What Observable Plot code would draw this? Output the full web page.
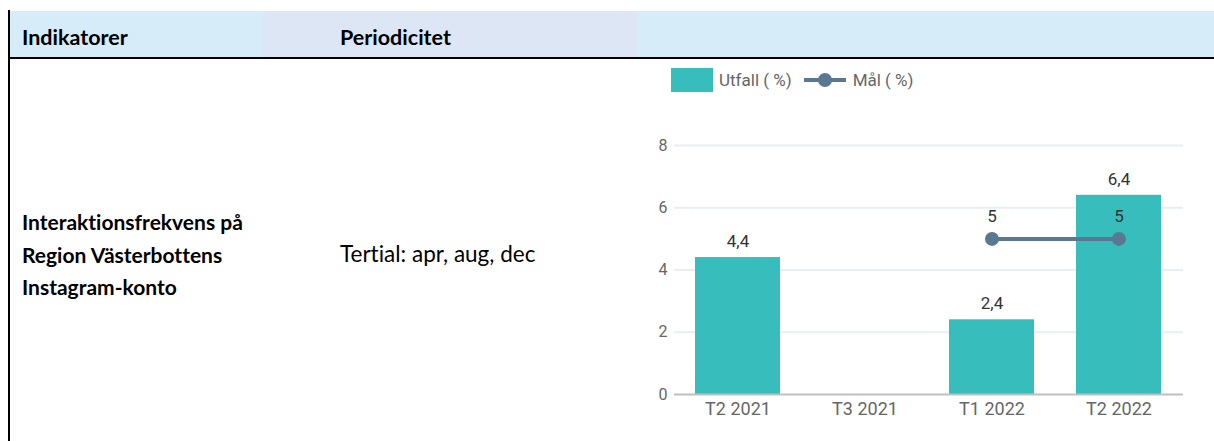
<!DOCTYPE html>
<html>
<head>
<meta charset="utf-8">
<script src="https://cdn.jsdelivr.net/npm/d3@7"></script>
<script src="https://cdn.jsdelivr.net/npm/@observablehq/plot@0.6"></script>
<style>
  html, body { margin: 0; padding: 0; background: #fff; }
  body { width: 1214px; height: 441px; position: relative; overflow: hidden; font-family: "Lato", "Open Sans", sans-serif; font-variant-ligatures: none; font-feature-settings: "liga" 0, "clig" 0; }
  .abs { position: absolute; }
  .hdr { top: 11px; height: 46px; }
  .htext { font-weight: bold; font-size: 21.5px; color: #000; line-height: 46px; }
  .legend { position: absolute; left: 671px; top: 68px; height: 24px; display: flex; align-items: center; font-family: Roboto, sans-serif; font-size: 17px; color: #666; }
  .sw { width: 42px; height: 24px; background: #38bdbd; margin-right: 6px; }
  .ln { position: relative; width: 42px; height: 24px; margin: 0 7px 0 12px; }
  .ln .bar { position: absolute; left: 0; top: 10px; width: 42px; height: 4px; background: #5a7891; }
  .ln .dot { position: absolute; left: 14px; top: 5px; width: 14px; height: 14px; border-radius: 50%; background: #5a7891; }
  #chart { position: absolute; left: 637px; top: 120px; }
</style>
</head>
<body>
<div class="abs hdr" style="left:10px; width:253px; background:#d6ecf9;"></div>
<div class="abs hdr" style="left:263px; width:374px; background:#dce6f4;"></div>
<div class="abs hdr" style="left:637px; width:577px; background:#d6ecf9;"></div>
<div class="abs" style="left:8px; top:10px; width:2px; height:431px; background:#000;"></div>
<div class="abs" style="left:8px; top:57px; width:1206px; height:2px; background:#000;"></div>
<div class="abs htext" style="left:22px; top:14px;">Indikatorer</div>
<div class="abs htext" style="left:340px; top:14px;">Periodicitet</div>
<div class="abs" style="left:22px; top:206px; font-weight:bold; font-size:21px; line-height:32.5px;">Interaktionsfrekvens på<br>Region Västerbottens<br>Instagram-konto</div>
<div class="abs" style="left:340px; top:238px; font-size:22.5px; line-height:32.5px;">Tertial: apr, aug, dec</div>
<div class="legend">
  <div class="sw"></div><span>Utfall ( %)</span>
  <div class="ln"><div class="bar"></div><div class="dot"></div></div><span>Mål ( %)</span>
</div>
<div id="chart"></div>
<script>
const periods = ["T2 2021", "T3 2021", "T1 2022", "T2 2022"];
const utfall = [4.4, null, 2.4, 6.4];
const mal = [null, null, 5, 5];
const yTicks = [0, 2, 4, 6, 8];

const fmt = v => String(v).replace(".", ",");
const bars = periods.map((p, i) => ({period: p, value: utfall[i]})).filter(d => d.value != null);
const goal = periods.map((p, i) => ({period: p, value: mal[i]})).filter(d => d.value != null);

const chart = Plot.plot({
  width: 577,
  height: 321,
  marginTop: 25,
  marginLeft: 37,
  marginRight: 31,
  marginBottom: 47,
  style: {fontFamily: "Roboto, sans-serif", background: "transparent"},
  x: {domain: periods, paddingInner: 0.33, paddingOuter: 0.165, label: null},
  y: {domain: [0, 8], label: null},
  marks: [
    Plot.ruleY(yTicks.filter(t => t > 0), {stroke: "#e9eef4", strokeWidth: 2}),
    Plot.barY(bars, {x: "period", y: "value", fill: "#38bdbd"}),
    Plot.ruleY([0], {stroke: "#bfbfbf", strokeWidth: 2}),
    Plot.line(goal, {x: "period", y: "value", stroke: "#5a7891", strokeWidth: 4}),
    Plot.dot(goal, {x: "period", y: "value", r: 7, fill: "#5a7891", stroke: "none"}),
    Plot.text(bars, {x: "period", y: "value", text: d => fmt(d.value), dy: -16, lineAnchor: "middle", fontSize: 17, fill: "#333"}),
    Plot.text(goal, {x: "period", y: "value", text: d => fmt(d.value), dy: -22, lineAnchor: "middle", fontSize: 17, fill: "#333"}),
    Plot.axisX({tickSize: 0, tickPadding: 8, fontSize: 18, fill: "#666"}),
    Plot.axisY({ticks: yTicks, tickSize: 0, tickPadding: 7, fontSize: 16, fill: "#666", tickFormat: fmt})
  ]
});
document.getElementById("chart").appendChild(chart);
</script>
</body>
</html>
